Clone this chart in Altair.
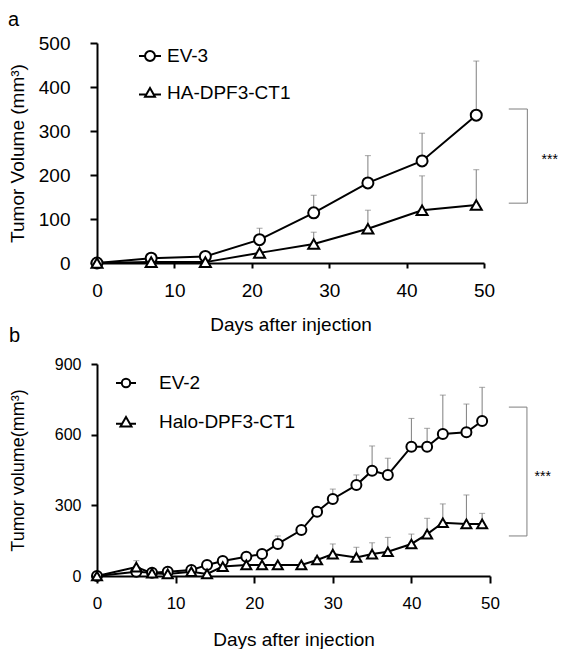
import altair as alt
import pandas as pd

FONT = "Liberation Sans"

# ---------------- Panel a data ----------------
days_a = [0, 7, 14, 21, 28, 35, 42, 49]
ev3_mean = [0, 11, 15, 53, 114, 182, 232, 336]
ev3_upper = [0, 13, 18, 79, 154, 244, 295, 459]
ha_mean = [0, 2, 2, 23, 43, 78, 120, 132]
ha_upper = [0, 3, 4, 27, 70, 120, 198, 212]
series_a = ["EV-3", "HA-DPF3-CT1"]
bracket_a_x = [53.2, 55.6]
bracket_a_y = [350, 136]
stars_a = [58.5, 234]

# ---------------- Panel b data ----------------
days_b = [0, 5, 7, 9, 12, 14, 16, 19, 21, 23, 26, 28, 30, 33, 35, 37, 40, 42, 44, 47, 49]
ev2_mean = [0, 18, 14, 18, 25, 47, 64, 82, 93, 136, 195, 273, 327, 386, 447, 429, 549, 549, 603, 610, 658]
ev2_upper = [0, 22, 18, 22, 30, 52, 70, 90, 102, 170, 205, 285, 369, 429, 552, 500, 669, 627, 768, 730, 801]
halo_mean = [0, 38, 12, 9, 18, 9, 40, 47, 47, 47, 47, 68, 93, 79, 93, 103, 136, 178, 226, 221, 221]
halo_upper = [0, 65, 15, 12, 22, 12, 45, 52, 52, 52, 55, 78, 136, 122, 141, 164, 178, 245, 306, 344, 266]
series_b = ["EV-2", "Halo-DPF3-CT1"]
bracket_b_x = [52.4, 54.7]
bracket_b_y = [717, 170]
stars_b = [56.7, 420]

# legend symbols (line through marker), unit square paths
circ_a = "M-1,0H-0.45M0.45,0H1M-0.45,0A0.45,0.45,0,1,1,0.45,0A0.45,0.45,0,1,1,-0.45,0Z"
tri_a = "M-1,0.14H-0.34M0.34,0.14H1M0,-0.45L0.45,0.33L-0.45,0.33Z"
circ_b = "M-1,0H-0.42M0.42,0H1M-0.42,0A0.42,0.42,0,1,1,0.42,0A0.42,0.42,0,1,1,-0.42,0Z"
tri_b = "M-1,0.17H-0.39M0.39,0.17H1M0,-0.5L0.55,0.45L-0.55,0.45Z"

GREY = "#7f7f7f"


def make_df(days, m1, u1, m2, u2, names):
    rows = []
    for d, m, u in zip(days, m1, u1):
        rows.append({"day": d, "mean": m, "upper": u, "series": names[0]})
    for d, m, u in zip(days, m2, u2):
        rows.append({"day": d, "mean": m, "upper": u, "series": names[1]})
    return pd.DataFrame(rows)


def bracket_df(bx, by):
    return pd.DataFrame([
        {"x": bx[0], "x2": bx[1], "y": by[0], "y2": by[0]},
        {"x": bx[1], "x2": bx[1], "y": by[0], "y2": by[1]},
        {"x": bx[0], "x2": bx[1], "y": by[1], "y2": by[1]},
    ])


def panel(df, names, xdomain, ydomain, yvals, width, height, ytitle, label,
          axis_cfg, leg_cfg, leg_paths, pt_size, bx, by, stars):
    xs = alt.Scale(domain=xdomain, nice=False, zero=False)
    ys = alt.Scale(domain=ydomain, nice=False)
    xaxis = alt.Axis(values=[0, 10, 20, 30, 40, 50], title="Days after injection",
                     tickSize=axis_cfg["xtick"], labelPadding=axis_cfg["xlabpad"],
                     labelFontSize=axis_cfg["xlabfs"], titleFontSize=19,
                     titleBaseline="alphabetic", titleY=axis_cfg["xtitley"],
                     labelFlush=False)
    yaxis = alt.Axis(values=yvals, title=ytitle, tickSize=axis_cfg["ytick"],
                     labelPadding=axis_cfg["ylabpad"], labelFontSize=axis_cfg["ylabfs"],
                     titleFontSize=axis_cfg["ytitlefs"], minExtent=axis_cfg["ext"],
                     maxExtent=axis_cfg["ext"], titlePadding=axis_cfg["tpad"])
    base = alt.Chart(df)
    x = alt.X("day:Q", scale=xs, axis=xaxis)
    y = alt.Y("mean:Q", scale=ys, axis=yaxis)

    err = base.mark_rule(color=GREY, strokeWidth=1).encode(
        x=alt.X("day:Q", scale=xs), y=alt.Y("mean:Q", scale=ys), y2="upper:Q")
    cap = base.mark_tick(color=GREY, orient="horizontal", size=6, thickness=1).encode(
        x=alt.X("day:Q", scale=xs), y=alt.Y("upper:Q", scale=ys))
    line = base.mark_line(color="black", strokeWidth=2).encode(
        x=x, y=y, detail="series:N", order="day:Q")
    pts = base.mark_point(filled=True, fill="white", stroke="black", strokeWidth=2,
                          opacity=1, size=pt_size).encode(
        x=alt.X("day:Q", scale=xs), y=alt.Y("mean:Q", scale=ys),
        shape=alt.Shape("series:N", scale=alt.Scale(domain=names, range=["circle", "triangle-up"]),
                        legend=None))
    leg = base.transform_filter("datum.day < 0").mark_point(
        filled=False, color="black", strokeWidth=2, opacity=1).encode(
        x=alt.X("day:Q", scale=xs), y=alt.Y("mean:Q", scale=ys),
        shape=alt.Shape("series:N", scale=alt.Scale(domain=names, range=leg_paths),
                        legend=alt.Legend(title=None, orient="none", **leg_cfg)))

    bdf = bracket_df(bx, by)
    br = alt.Chart(bdf).mark_rule(color=GREY, strokeWidth=1).encode(
        x=alt.X("x:Q", scale=xs), x2="x2:Q", y=alt.Y("y:Q", scale=ys), y2="y2:Q")
    sdf = pd.DataFrame([{"x": stars[0], "y": stars[1], "t": "***"}])
    st = alt.Chart(sdf).mark_text(font=FONT, fontSize=14, color="black", baseline="middle").encode(
        x=alt.X("x:Q", scale=xs), y=alt.Y("y:Q", scale=ys), text="t:N")

    return alt.layer(err, cap, line, pts, leg, br, st).resolve_scale(
        shape="independent").properties(
        width=width, height=height,
        title=alt.TitleParams(text=label, anchor="start", frame="bounds", fontSize=20,
                              font=FONT, fontWeight="normal", offset=axis_cfg["toff"],
                              color="black"))


df_a = make_df(days_a, ev3_mean, ev3_upper, ha_mean, ha_upper, series_a)
df_b = make_df(days_b, ev2_mean, ev2_upper, halo_mean, halo_upper, series_b)

chart_a = panel(
    df_a, series_a, [0, 50], [0, 500], [0, 100, 200, 300, 400, 500], 387, 220,
    "Tumor Volume (mm³)", "a",
    dict(xtick=5, xlabpad=13, xlabfs=19, xtitley=67, ytick=7, ylabpad=20, ylabfs=19,
         ytitlefs=19, ext=58, tpad=12, toff=4),
    dict(legendX=41, legendY=1, symbolSize=484, labelOffset=5, rowPadding=15, padding=0,
         labelFont=FONT, labelFontSize=19, labelColor="black", symbolStrokeWidth=2,
         symbolFillColor="white", symbolStrokeColor="black"),
    [circ_a, tri_a], 121, bracket_a_x, bracket_a_y, stars_a)

chart_b = panel(
    df_b, series_b, [0, 50], [0, 900], [0, 300, 600, 900], 393, 212,
    "Tumor volume(mm³)", "b",
    dict(xtick=7, xlabpad=12, xlabfs=17, xtitley=69, ytick=6, ylabpad=10, ylabfs=16,
         ytitlefs=18, ext=58, tpad=12, toff=10),
    dict(legendX=18, legendY=8, symbolSize=400, labelOffset=22, rowPadding=18, padding=0,
         labelFont=FONT, labelFontSize=19, labelColor="black", symbolStrokeWidth=2,
         symbolFillColor="white", symbolStrokeColor="black"),
    [circ_b, tri_b], 100, bracket_b_x, bracket_b_y, stars_b)

chart = alt.vconcat(chart_a, chart_b, spacing=101, bounds="flush").resolve_scale(
    x="independent", y="independent", shape="independent"
).properties(padding={"top": 2, "left": 0, "right": 0, "bottom": 0}).configure_view(
    stroke=None).configure_axis(
    domainColor="black", domainWidth=2, tickColor="black", tickWidth=2, grid=False,
    labelFont=FONT, titleFont=FONT, labelColor="black", titleColor="black",
    titleFontWeight="normal"
)

chart.save("out.html", embed_options={"renderer": "svg", "actions": False})
